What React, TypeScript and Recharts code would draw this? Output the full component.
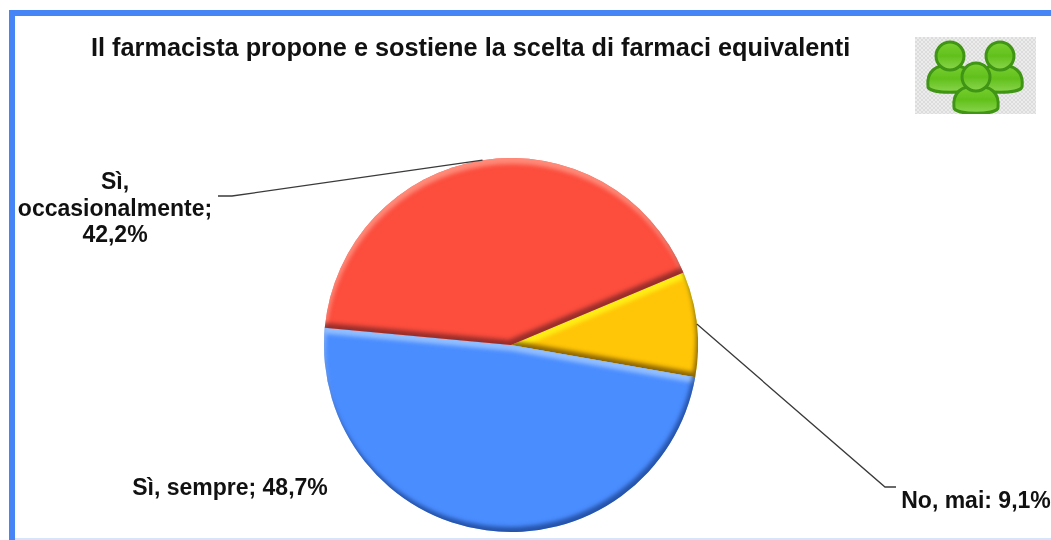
import { PieChart, Pie, Cell } from 'recharts'

const sliceNames = ['No, mai', 'Sì, sempre', 'Sì, occasionalmente']
const sliceValues = [9.1, 48.7, 42.2]
const sliceColors = ['#FFC507', '#4A8DFF', '#FC4D3D']
const rimLight = ['#FFF71A', '#A4CAFF', '#FF9A88']
const rimDark = ['#5E3F00', '#163A86', '#6E1F22']
const labelLines = [['No, mai: 9,1%'], ['Sì, sempre; 48,7%'], ['Sì,', 'occasionalmente;', '42,2%']]

const data = sliceNames.map((name, i) => ({ name, value: sliceValues[i] }))

const RAD = Math.PI / 180
const FONT = '"Liberation Sans", Arial, sans-serif'

// where each label sits, and the leader line's elbow and end
const labelSpots = [
  { x: 976, y: 508, leader: [[885, 487], [896, 487]] },
  { x: 230, y: 495, leader: null },
  { x: 115, y: 189, leader: [[232, 196], [218, 196]] },
]

function renderLabel(props: any) {
  const { cx, cy, midAngle, outerRadius, index } = props
  const spot = labelSpots[index]
  const ax = cx + outerRadius * Math.cos(midAngle * RAD)
  const ay = cy - outerRadius * Math.sin(midAngle * RAD)
  return (
    <g key={index}>
      {spot.leader && (
        <polyline
          points={[[ax, ay], ...spot.leader].map((p) => p.join(',')).join(' ')}
          fill="none"
          stroke="#3a3a3a"
          strokeWidth={1.3}
        />
      )}
      <text x={spot.x} y={spot.y} textAnchor="middle" fontFamily={FONT} fontWeight="bold" fontSize={23} fill="#111">
        {labelLines[index].map((t, i) => (
          <tspan key={i} x={spot.x} dy={i === 0 ? 0 : 26.5}>
            {t}
          </tspan>
        ))}
      </text>
    </g>
  )
}

function PeopleIcon() {
  const person = (x: number, y: number, k: string) => (
    <g key={k} transform={`translate(${x} ${y})`} filter="url(#iconSoft)">
      <path
        d="M-22 24 C-24 8 -14 2 0 2 C14 2 24 8 22 24 C20 31 -20 31 -22 24 Z"
        fill="url(#iconGreen)"
        stroke="#3f9412"
        strokeWidth={3}
      />
      <circle cx={0} cy={-7} r={14} fill="url(#iconGreen)" stroke="#3f9412" strokeWidth={3} />
    </g>
  )
  return (
    <svg width={121} height={77} style={{ position: 'absolute', left: 915, top: 37 }}>
      <defs>
        <linearGradient id="iconGreen" x1="0" y1="0" x2="0" y2="1">
          <stop offset="0" stopColor="#78d030" />
          <stop offset="0.5" stopColor="#62c01c" />
          <stop offset="1" stopColor="#8ad64e" />
        </linearGradient>
        <pattern id="iconBack" width="4" height="4" patternUnits="userSpaceOnUse">
          <rect width="4" height="4" fill="#ececec" />
          <rect width="2" height="2" fill="#dcdcdc" />
          <rect x="2" y="2" width="2" height="2" fill="#dcdcdc" />
        </pattern>
        <filter id="iconSoft">
          <feGaussianBlur stdDeviation="0.7" />
        </filter>
      </defs>
      <rect width={121} height={77} fill="url(#iconBack)" />
      {person(35, 26, 'a')}
      {person(85, 26, 'b')}
      {person(61, 47, 'c')}
    </svg>
  )
}

export default function App() {
  return (
    <div
      style={{
        position: 'absolute',
        left: 0,
        top: 0,
        width: 1051,
        height: 540,
        background: '#fff',
        overflow: 'hidden',
        filter: 'blur(0.5px)',
      }}
    >
      <div style={{ position: 'absolute', left: 9, top: 10, width: 1042, height: 6, background: '#4585F5' }} />
      <div style={{ position: 'absolute', left: 9, top: 10, width: 6, height: 530, background: '#4585F5' }} />
      <div style={{ position: 'absolute', left: 15, top: 538, width: 1036, height: 2, background: '#d6e5fc' }} />
      <div
        style={{
          position: 'absolute',
          left: 91,
          top: 33,
          fontFamily: FONT,
          fontWeight: 'bold',
          fontSize: 25.3,
          lineHeight: '29px',
          color: '#111',
          whiteSpace: 'nowrap',
        }}
      >
        Il farmacista propone e sostiene la scelta di farmaci equivalenti
      </div>
      <PeopleIcon />
      <div style={{ position: 'absolute', left: 0, top: 0 }}>
        <PieChart width={1051} height={540} margin={{ top: 0, right: 0, bottom: 0, left: 0 }}>
          <defs>
            {sliceColors.map((_, i) => (
              <filter key={i} id={`bevel${i}`} x="-5%" y="-5%" width="110%" height="110%" colorInterpolationFilters="sRGB">
                <feGaussianBlur in="SourceAlpha" stdDeviation="2" result="blur" />
                <feOffset in="blur" dx="-2" dy="-5" result="offDark" />
                <feComposite in="SourceAlpha" in2="offDark" operator="out" result="edgeDark" />
                <feFlood floodColor={rimDark[i]} floodOpacity="0.7" />
                <feComposite in2="edgeDark" operator="in" result="dark" />
                <feOffset in="blur" dx="1" dy="6" result="offLight" />
                <feComposite in="SourceAlpha" in2="offLight" operator="out" result="edgeLight" />
                <feFlood floodColor={rimLight[i]} floodOpacity="0.8" />
                <feComposite in2="edgeLight" operator="in" result="light" />
                <feMerge>
                  <feMergeNode in="SourceGraphic" />
                  <feMergeNode in="light" />
                  <feMergeNode in="dark" />
                </feMerge>
              </filter>
            ))}
          </defs>
          <Pie
            data={data}
            dataKey="value"
            nameKey="name"
            cx={511}
            cy={345}
            innerRadius={0}
            outerRadius={187}
            startAngle={22.8}
            endAngle={-337.2}
            stroke="none"
            label={renderLabel}
            labelLine={false}
            isAnimationActive={false}
          >
            {data.map((entry, i) => (
              <Cell key={entry.name} fill={sliceColors[i]} filter={`url(#bevel${i})`} />
            ))}
          </Pie>
        </PieChart>
      </div>
    </div>
  )
}
